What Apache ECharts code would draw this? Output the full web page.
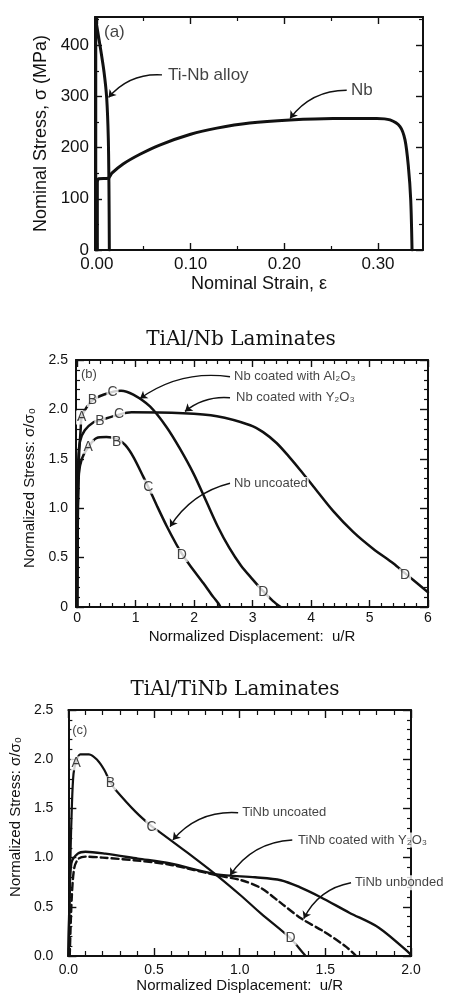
<!DOCTYPE html>
<html>
<head>
<meta charset="utf-8">
<script src="https://cdn.jsdelivr.net/npm/echarts@6/dist/echarts.min.js"></script>
<style>
  html, body { margin: 0; padding: 0; background: #ffffff; }
  #chart { width: 456px; height: 997px; }
</style>
</head>
<body>
<div id="chart"></div>
<script>
// ---------- (a) nominal stress (MPa) vs nominal strain ----------
const strainLabelsA = [0, 0.1, 0.2, 0.3];
const stressLabelsA = [0, 100, 200, 300, 400];
const tiNbAlloy = [[-0.0012, 0], [-0.0012, 452], [-0.0002, 439], [0.0033, 400], [0.0076, 348],
  [0.0105, 296], [0.0122, 218], [0.0129, 120], [0.0133, 0]];
const nbFoil = [[0.0005, 0], [0.0005, 132], [0.002, 139], [0.012, 140], [0.016, 150], [0.028, 168],
  [0.046, 187], [0.067, 205], [0.10, 226], [0.128, 238], [0.163, 248], [0.206, 254], [0.252, 257],
  [0.2986, 257], [0.3128, 254], [0.3235, 241], [0.3288, 215], [0.3324, 163], [0.3349, 98], [0.3363, 0]];

// ---------- (b) TiAl/Nb laminates: normalized stress vs u/R ----------
const dispLabelsB = [0, 1, 2, 3, 4, 5, 6];
const stressLabelsBC = [0, 0.5, 1.0, 1.5, 2.0, 2.5];
const nbAl2O3 = [[0, 0], [0.01, 0.8], [0.03, 1.5], [0.06, 1.8], [0.08, 1.93], [0.28, 2.10], [0.62, 2.18],
  [0.75, 2.19], [0.96, 2.15], [1.245, 2.03], [1.53, 1.82], [1.76, 1.60], [1.99, 1.35], [2.2, 1.08],
  [2.4, 0.82], [2.6, 0.60], [2.8, 0.42], [3.0, 0.28], [3.18, 0.16], [3.35, 0.06], [3.48, 0]];
const nbY2O3 = [[0, 0], [0.01, 1.0], [0.02, 1.5], [0.05, 1.68], [0.13, 1.79], [0.28, 1.87], [0.39, 1.89],
  [0.73, 1.95], [0.93, 1.97], [1.81, 1.96], [2.39, 1.93], [2.96, 1.84], [3.18, 1.77], [3.41, 1.66],
  [3.64, 1.51], [3.81, 1.39], [4.04, 1.22], [4.38, 0.97], [4.72, 0.76], [5.06, 0.59], [5.41, 0.44],
  [5.61, 0.34], [6.0, 0.15]];
const nbUncoated = [[0, 0], [0.01, 1.0], [0.03, 1.35], [0.08, 1.5], [0.19, 1.62], [0.33, 1.71], [0.5, 1.72],
  [0.68, 1.70], [0.82, 1.64], [0.96, 1.52], [1.13, 1.32], [1.22, 1.21], [1.36, 1.03], [1.53, 0.82],
  [1.70, 0.63], [1.79, 0.54], [1.93, 0.42], [2.16, 0.24], [2.33, 0.10], [2.41, 0.04], [2.45, 0]];

// ---------- (c) TiAl/TiNb laminates ----------
const dispLabelsC = [0, 0.5, 1.0, 1.5, 2.0];
const tiNbUncoated = [[0, 0], [0.012, 1.0], [0.02, 1.5], [0.03, 1.85], [0.046, 1.98], [0.07, 2.05],
  [0.12, 2.05], [0.17, 1.99], [0.21, 1.89], [0.246, 1.76], [0.275, 1.69], [0.39, 1.47], [0.485, 1.32],
  [0.533, 1.26], [0.695, 1.05], [0.866, 0.82], [1.01, 0.61], [1.125, 0.43], [1.296, 0.18], [1.37, 0.03],
  [1.385, 0]];
const tiNbY2O3 = [[0, 0], [0.006, 0.5], [0.017, 0.94], [0.055, 1.04], [0.1, 1.06], [0.216, 1.04],
  [0.405, 0.99], [0.595, 0.94], [0.866, 0.83], [1.09, 0.80], [1.24, 0.77], [1.35, 0.70], [1.47, 0.60],
  [1.64, 0.44], [1.81, 0.29], [1.99, 0.03], [2.0, 0]];
const tiNbUnbonded = [[0.008, 0], [0.02, 0.6], [0.035, 0.9], [0.06, 0.99], [0.1, 1.01], [0.2, 1.0],
  [0.4, 0.97], [0.6, 0.925], [0.866, 0.82], [1.01, 0.77], [1.125, 0.69], [1.24, 0.54], [1.36, 0.38],
  [1.49, 0.25], [1.62, 0.095], [1.68, 0]];

// ---------- annotation anchors (data coordinates) ----------
const notesA = [
  { text: '(a)', at: [0.0065, 426] },
  { text: 'Ti-Nb alloy', at: [0.0748, 342] },
  { text: 'Nb', at: [0.270, 312] }
];
const arrowsA = [[[0.0695, 342], [0.0125, 298]], [[0.2666, 312], [0.2061, 257]]];

const notesB = [
  { text: '(b)', at: [0.048, 2.35] },
  { text: 'Nb coated with Al₂O₃', at: [2.665, 2.33] },
  { text: 'Nb coated with Y₂O₃', at: [2.70, 2.118] },
  { text: 'Nb uncoated', at: [2.665, 1.25] }
];
const arrowsB = [[[2.614, 2.33], [1.075, 2.11]], [[2.614, 2.118], [1.844, 1.98]], [[2.614, 1.252], [1.588, 0.813]]];
const lettersB = [
  { text: 'A', at: [0.077, 1.918] }, { text: 'B', at: [0.262, 2.095] }, { text: 'C', at: [0.604, 2.176] },
  { text: 'B', at: [0.39, 1.883] }, { text: 'C', at: [0.715, 1.953] },
  { text: 'A', at: [0.19, 1.622] }, { text: 'B', at: [0.676, 1.67] }, { text: 'C', at: [1.217, 1.218] },
  { text: 'D', at: [1.788, 0.526] }, { text: 'D', at: [3.183, 0.155] }, { text: 'D', at: [5.607, 0.32] }
];

const notesC = [
  { text: '(c)', at: [0.017, 2.297] },
  { text: 'TiNb uncoated', at: [1.009, 1.456] },
  { text: 'TiNb coated with Y₂O₃', at: [1.335, 1.179] },
  { text: 'TiNb unbonded', at: [1.668, 0.745] }
];
const arrowsC = [[[0.991, 1.456], [0.61, 1.18]], [[1.307, 1.179], [0.944, 0.82]], [[1.65, 0.745], [1.374, 0.38]]];
const lettersC = [
  { text: 'A', at: [0.046, 1.958] }, { text: 'B', at: [0.246, 1.755] },
  { text: 'C', at: [0.485, 1.314] }, { text: 'D', at: [1.297, 0.18] }
];

// ---------- styling helpers ----------
const FONT = '"Liberation Sans", Arial, Helvetica, sans-serif';
const INK = '#111111';

function steps(from, to, step) {
  const out = [];
  for (let i = 0; from + i * step <= to + 1e-9; i++) out.push(Math.round((from + i * step) * 1e4) / 1e4);
  return out;
}
function without(list, remove) {
  return list.filter(v => !remove.some(r => Math.abs(r - v) < 1e-6));
}

// Each side pair gets: primary side (labels + major ticks), its minor ticks, and the opposite frame side.
function axisSet(dim, gridIndex, c) {
  const sides = dim === 'x' ? ['bottom', 'top'] : ['left', 'right'];
  const out = [];
  sides.forEach((pos, i) => {
    const major = {
      type: 'value', gridIndex, position: pos, min: c.min, max: c.max,
      axisLine: { show: true, onZero: false, lineStyle: { color: INK, width: c.lineW } },
      axisTick: { show: true, inside: true, length: c.majorLen, customValues: c.major, lineStyle: { color: INK, width: 1.4 } },
      axisLabel: i === 0
        ? { show: true, customValues: c.labels, formatter: c.fmt, margin: c.margin, color: INK, fontSize: c.fontSize, fontFamily: FONT }
        : { show: false },
      splitLine: { show: false }
    };
    if (i === 0 && c.name) {
      Object.assign(major, {
        name: c.name, nameLocation: 'middle', nameGap: c.nameGap,
        nameTextStyle: Object.assign({ color: INK, fontSize: c.nameSize, fontFamily: FONT }, c.nameExtra || {})
      });
      if (dim === 'y') major.nameRotate = 90;
    }
    out.push(major);
    out.push({
      type: 'value', gridIndex, position: pos, min: c.min, max: c.max,
      axisLine: { show: false, onZero: false },
      axisTick: { show: true, inside: true, length: c.minorLen, customValues: c.minor, lineStyle: { color: INK, width: 1.2 } },
      axisLabel: { show: false },
      splitLine: { show: false }
    });
  });
  return out;
}

function curve(gi, data, width, dashed) {
  return {
    type: 'line', xAxisIndex: gi * 4, yAxisIndex: gi * 4, data, showSymbol: false, symbol: 'none',
    smooth: 0.3, lineStyle: { color: INK, width, type: dashed ? [7, 4] : 'solid', cap: 'round', join: 'round' },
    z: 3, animation: false
  };
}
function arrows(gi, list, curveness) {
  return {
    type: 'lines', coordinateSystem: 'cartesian2d', xAxisIndex: gi * 4, yAxisIndex: gi * 4,
    symbol: ['none', 'arrow'], symbolSize: 7, silent: true, animation: false, z: 4,
    lineStyle: { color: INK, width: 1.4, curveness, opacity: 1 },
    data: list.map(p => ({ coords: p }))
  };
}
function texts(gi, list, fontSize, position, padding) {
  return {
    type: 'scatter', xAxisIndex: gi * 4, yAxisIndex: gi * 4, symbolSize: 0, silent: true, clip: false,
    animation: false, z: 5, itemStyle: { color: INK },
    data: list.map(n => ({ name: n.text, value: n.at })),
    label: {
      show: true, formatter: '{b}', position, distance: 0, color: INK, fontSize, fontFamily: FONT,
      fontWeight: 'normal', textBorderWidth: 0, textShadowBlur: 0,
      backgroundColor: '#ffffff', padding
    }
  };
}

const fmt2 = v => v.toFixed(2);
const fmt1 = v => v.toFixed(1);
const fmtB = v => (v === 0 ? '0' : v.toFixed(1));

const xAxes = [].concat(
  axisSet('x', 0, { min: -0.002, max: 0.348, major: [0, 0.1, 0.2, 0.3], minor: [0.05, 0.15, 0.25],
    labels: strainLabelsA, fmt: fmt2, majorLen: 7, minorLen: 4, lineW: 2, fontSize: 17, margin: 6,
    name: 'Nominal Strain, ε', nameGap: 25, nameSize: 18 }),
  axisSet('x', 1, { min: -0.02, max: 6.0, major: steps(0, 6, 1), minor: without(steps(0, 6, 0.2), steps(0, 6, 1)),
    labels: dispLabelsB, fmt: v => String(v), majorLen: 7, minorLen: 4, lineW: 2, fontSize: 14, margin: 4,
    name: 'Normalized Displacement:  u/R', nameGap: 22, nameSize: 15 }),
  axisSet('x', 2, { min: 0, max: 2.0, major: steps(0, 2, 0.5), minor: without(steps(0, 2, 0.1), steps(0, 2, 0.5)),
    labels: dispLabelsC, fmt: fmt1, majorLen: 8, minorLen: 5, lineW: 2, fontSize: 14, margin: 7,
    name: 'Normalized Displacement:  u/R', nameGap: 21, nameSize: 15 })
);
const yAxes = [].concat(
  axisSet('y', 0, { min: 0, max: 455, major: [0, 100, 200, 300, 400], minor: [50, 150, 250, 350, 450],
    labels: stressLabelsA, fmt: v => String(v), majorLen: 7, minorLen: 4, lineW: 2, fontSize: 17, margin: 6,
    name: 'Nominal Stress, σ (MPa)', nameGap: 44, nameSize: 18 }),
  axisSet('y', 1, { min: 0, max: 2.5, major: steps(0, 2.5, 0.5), minor: without(steps(0, 2.5, 0.1), steps(0, 2.5, 0.5)),
    labels: stressLabelsBC, fmt: fmtB, majorLen: 8, minorLen: 4, lineW: 2, fontSize: 14, margin: 8,
    name: 'Normalized Stress: σ/σ₀', nameGap: 32, nameSize: 15, nameExtra: { padding: [0, 9, 0, 0] } }),
  axisSet('y', 2, { min: 0, max: 2.5, major: steps(0, 2.5, 0.5), minor: without(steps(0, 2.5, 0.1), steps(0, 2.5, 0.5)),
    labels: stressLabelsBC, fmt: fmt1, majorLen: 8, minorLen: 4, lineW: 2, fontSize: 14, margin: 15,
    name: 'Normalized Stress: σ/σ₀', nameGap: 31, nameSize: 15, nameExtra: { padding: [0, 0, 0, 32] } })
);

const chart = echarts.init(document.getElementById('chart'), null, { renderer: 'canvas' });
chart.setOption({
  backgroundColor: '#ffffff',
  animation: false,
  textStyle: { fontFamily: FONT, color: INK },
  grid: [
    { left: 95, top: 17, width: 328, height: 233 },
    { left: 76, top: 360, width: 352, height: 247 },
    { left: 62, top: 710, width: 349, height: 246 }
  ],
  graphic: [
    { type: 'text', x: 241, y: 340, silent: true,
      style: { text: 'TiAl/Nb Laminates', fontSize: 20, fontFamily: '"DejaVu Serif", serif', fill: INK, align: 'center', verticalAlign: 'middle' } },
    { type: 'text', x: 235, y: 690, silent: true,
      style: { text: 'TiAl/TiNb Laminates', fontSize: 20, fontFamily: '"DejaVu Serif", serif', fill: INK, align: 'center', verticalAlign: 'middle' } }
  ],
  xAxis: xAxes,
  yAxis: yAxes,
  series: [
    curve(0, tiNbAlloy, 3),
    curve(0, nbFoil, 3),
    arrows(0, arrowsA, -0.25),
    texts(0, notesA, 17, 'right', [0, 1]),

    curve(1, nbAl2O3, 2.5),
    curve(1, nbY2O3, 2.5),
    curve(1, nbUncoated, 2.5),
    arrows(1, arrowsB, -0.2),
    texts(1, notesB, 13, 'right', [0, 1]),
    texts(1, lettersB, 14, 'inside', [0, 1]),

    curve(2, tiNbUncoated, 2.2),
    curve(2, tiNbY2O3, 2.4),
    curve(2, tiNbUnbonded, 2.4, true),
    arrows(2, arrowsC, -0.25),
    texts(2, notesC, 13, 'right', [1, 1]),
    texts(2, lettersC, 14, 'inside', [0, 1])
  ]
});
</script>
</body>
</html>
